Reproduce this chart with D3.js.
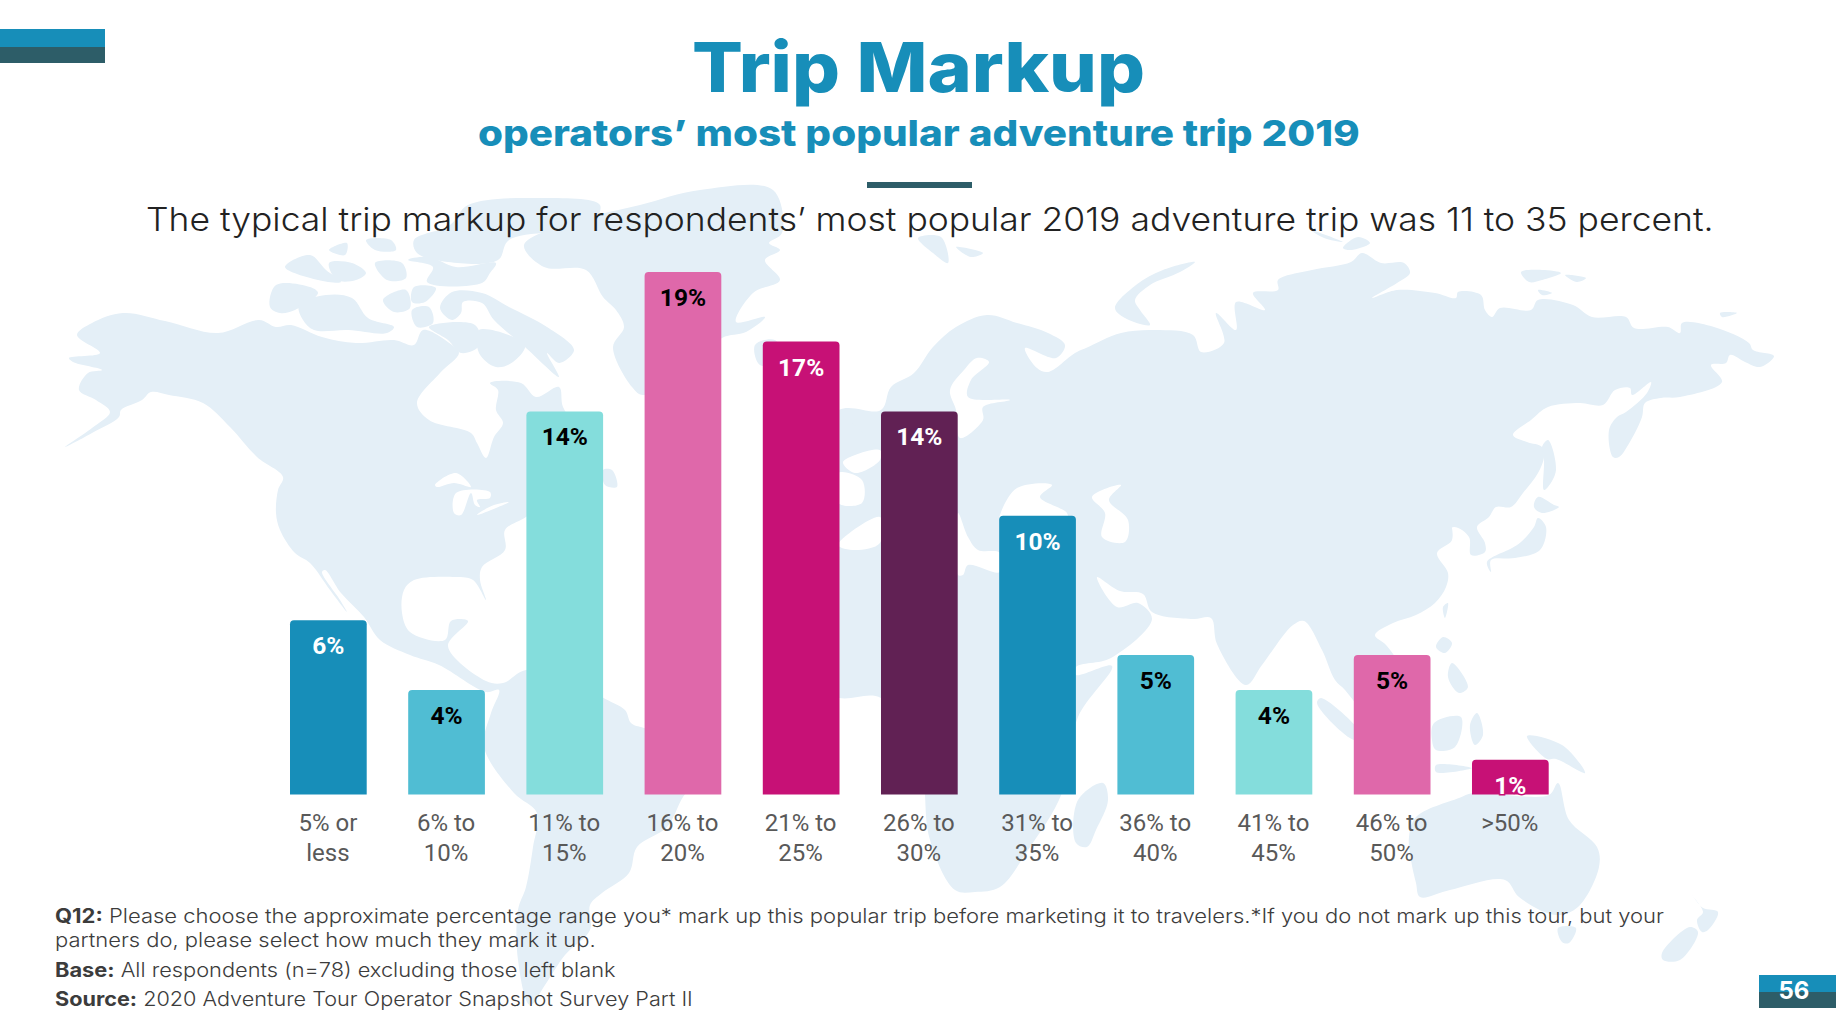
<!DOCTYPE html>
<html>
<head>
<meta charset="utf-8">
<title>Trip Markup</title>
<script src="https://cdn.jsdelivr.net/npm/d3@7"></script>
<style>
  html, body { margin: 0; padding: 0; background: #fff; }
  svg { display: block; }
  text { font-family: Inter, "Open Sans", sans-serif; }
  .bar-label, .cat-label { font-family: Roboto, sans-serif; }
</style>
</head>
<body>
<svg id="chart" width="1836" height="1028"></svg>
<script>
// Data
const categories = ['5% or less', '6% to 10%', '11% to 15%', '16% to 20%', '21% to 25%', '26% to 30%', '31% to 35%', '36% to 40%', '41% to 45%', '46% to 50%', '>50%'];
const categoryLines = [['5% or', 'less'], ['6% to', '10%'], ['11% to', '15%'], ['16% to', '20%'], ['21% to', '25%'], ['26% to', '30%'], ['31% to', '35%'], ['36% to', '40%'], ['41% to', '45%'], ['46% to', '50%'], ['>50%']];
const values = [6.41, 3.85, 14.10, 19.23, 16.67, 14.10, 10.26, 5.13, 3.85, 5.13, 1.28];
const valueLabels = ['6%', '4%', '14%', '19%', '17%', '14%', '10%', '5%', '4%', '5%', '1%'];
const barColors = ['#178eb9', '#50bdd3', '#84dddc', '#df68aa', '#c71176', '#612154', '#178eb9', '#50bdd3', '#84dddc', '#df68aa', '#c71176'];
const labelColors = ['#fff', '#000', '#000', '#000', '#fff', '#fff', '#fff', '#000', '#000', '#000', '#fff'];

const BLUE = '#178eb9', TEAL = '#2d5d68', MAP = '#e4eff7';

// Background map, rough outlines
const land = [
  // Americas
  [[77,335],[92,323],[123,313],[165,321],[218,333],[259,320],[276,327],[291,325],[322,337],[356,343],[394,340],[414,345],[423,330],[452,345],[459,353],[440,373],[417,403],[429,420],[471,433],[477,443],[486,458],[494,437],[503,423],[496,410],[498,390],[490,383],[521,383],[536,397],[559,387],[563,407],[585,440],[595,470],[560,490],[526,517],[505,530],[505,550],[482,567],[480,580],[486,600],[473,580],[456,577],[414,580],[404,590],[402,613],[410,632],[445,640],[451,621],[468,621],[448,646],[486,681],[503,683],[526,670],[580,680],[602,697],[625,710],[631,723],[644,728],[715,745],[700,775],[683,797],[667,827],[637,847],[629,873],[602,893],[590,905],[590,930],[565,955],[545,985],[530,1005],[518,960],[518,910],[526,887],[533,847],[537,813],[514,793],[484,747],[491,713],[499,690],[486,692],[439,665],[410,655],[380,640],[364,617],[341,593],[325,570],[322,572],[340,600],[347,612],[330,590],[310,563],[295,553],[280,530],[276,513],[278,490],[283,477],[257,457],[230,427],[203,403],[169,395],[151,392],[142,400],[121,410],[119,417],[92,433],[65,447],[92,428],[110,412],[96,400],[79,390],[88,373],[102,370],[73,362],[69,358],[100,353]],
  // Canadian arctic
  [[276,285],[310,287],[318,293],[295,310],[280,313],[270,307]],
  [[299,305],[326,295],[352,298],[368,318],[394,327],[387,333],[348,330],[314,330],[303,320]],
  [[285,267],[310,255],[326,270],[341,282],[318,280]],
  [[329,263],[352,263],[366,273],[356,280],[337,280]],
  [[329,250],[347,243],[345,255]],
  [[375,263],[402,263],[406,278],[387,280]],
  [[366,240],[391,240],[396,250],[375,250]],
  [[408,260],[433,267],[427,282],[482,283],[490,273],[496,263],[456,267],[429,257]],
  [[468,205],[540,198],[600,205],[590,225],[509,240],[498,260],[448,262],[417,253],[414,240],[450,225]],
  [[440,308],[452,292],[482,293],[509,307],[547,327],[574,350],[559,363],[547,353],[559,377],[525,347],[494,320],[482,303],[463,302],[461,313],[452,320]],
  [[412,310],[429,307],[433,323],[417,327]],
  [[383,300],[406,290],[410,308],[394,312]],
  [[414,287],[436,288],[425,302],[412,302]],
  [[429,327],[475,325],[480,345],[461,353],[448,340]],
  [[479,330],[525,345],[513,362],[496,367],[479,353]],
  [[603,470],[612,470],[617,487],[605,485]],
  // Greenland, Iceland
  [[524,245],[544,267],[586,270],[603,297],[616,310],[624,327],[613,347],[632,387],[643,395],[690,370],[722,338],[746,332],[765,317],[736,322],[753,293],[780,280],[765,260],[780,250],[769,243],[782,233],[773,190],[700,190],[640,205],[580,220]],
  [[755,345],[775,340],[785,360],[760,365]],
  // Eurasia and Africa
  [[839,410],[881,410],[891,387],[914,373],[933,347],[956,327],[987,315],[1017,323],[1048,333],[1065,345],[1056,358],[1025,348],[1037,368],[1048,372],[1075,353],[1086,348],[1121,333],[1155,330],[1193,335],[1201,352],[1224,343],[1216,313],[1236,330],[1236,302],[1265,310],[1253,293],[1278,290],[1278,280],[1312,270],[1351,262],[1362,253],[1381,263],[1404,263],[1410,273],[1397,283],[1372,298],[1397,290],[1435,293],[1456,298],[1458,292],[1481,295],[1485,310],[1492,317],[1500,308],[1531,310],[1538,300],[1573,305],[1592,317],[1626,317],[1634,328],[1668,327],[1680,333],[1682,323],[1714,327],[1749,343],[1753,350],[1774,356],[1760,367],[1745,362],[1730,355],[1726,363],[1711,365],[1722,382],[1680,397],[1661,398],[1645,403],[1642,417],[1631,440],[1619,457],[1613,457],[1609,430],[1617,417],[1626,412],[1647,393],[1651,382],[1632,395],[1630,388],[1615,390],[1603,405],[1580,403],[1548,407],[1531,420],[1513,435],[1527,442],[1542,447],[1544,457],[1538,473],[1523,493],[1511,507],[1496,507],[1489,517],[1477,527],[1485,543],[1485,552],[1471,555],[1469,537],[1454,527],[1435,540],[1429,532],[1448,520],[1452,540],[1437,553],[1448,573],[1446,587],[1435,603],[1416,615],[1393,623],[1375,635],[1386,645],[1398,665],[1390,690],[1365,680],[1372,700],[1375,735],[1360,710],[1345,690],[1335,680],[1322,650],[1304,621],[1293,625],[1262,665],[1246,685],[1217,644],[1211,618],[1193,619],[1152,612],[1143,594],[1120,591],[1097,577],[1117,607],[1138,603],[1152,619],[1111,658],[1076,667],[1076,675],[1112,666],[1078,717],[1062,793],[1028,850],[1000,887],[975,892],[955,890],[930,840],[925,795],[925,760],[881,698],[839,698],[790,680],[780,600],[800,470]],
  [[841,417],[857,427],[876,450],[864,460],[840,463]],
  // Arctic islands
  [[918,238],[941,237],[948,263],[933,253]],
  [[956,247],[983,253],[971,257]],
  [[1195,262],[1163,270],[1136,285],[1115,308],[1125,318],[1150,325],[1140,310],[1135,300],[1150,285],[1180,272]],
  [[1343,248],[1358,237],[1370,243],[1351,250]],
  [[1311,230],[1343,242],[1324,238]],
  [[1521,272],[1542,270],[1561,273],[1542,280],[1529,282]],
  [[1565,275],[1586,278],[1577,282]],
  [[1538,290],[1552,293],[1542,295]],
  [[1720,313],[1737,313],[1722,317]],
  // Japan, Sakhalin, Taiwan, south-east Asia
  [[1487,562],[1512,548],[1521,542],[1534,527],[1538,518],[1546,527],[1540,550],[1515,558],[1491,560],[1491,572]],
  [[1538,497],[1554,505],[1559,507],[1542,513],[1534,507]],
  [[1542,447],[1548,440],[1556,470],[1548,487],[1544,490],[1544,460]],
  [[1443,607],[1448,603],[1445,618]],
  [[1443,637],[1452,643],[1445,653],[1436,647]],
  [[1452,663],[1468,687],[1459,693],[1448,677]],
  [[1434,723],[1461,717],[1455,747],[1436,750],[1432,740]],
  [[1477,713],[1483,735],[1475,745],[1470,725]],
  [[1321,698],[1363,737],[1354,740],[1317,703]],
  [[1436,765],[1472,768],[1436,772]],
  [[1527,736],[1562,745],[1585,773],[1556,759],[1547,759]],
  // Madagascar, Australia, New Zealand
  [[1078,800],[1103,783],[1108,800],[1096,830],[1087,847],[1076,843]],
  [[1409,837],[1416,817],[1459,798],[1473,793],[1549,795],[1558,783],[1569,820],[1597,847],[1599,867],[1578,907],[1556,915],[1519,897],[1505,880],[1450,890],[1420,897],[1416,883],[1411,860]],
  [[1558,928],[1576,928],[1569,943],[1562,942]],
  [[1692,895],[1703,908],[1718,912],[1708,930],[1702,932],[1697,920],[1703,912]],
  [[1690,927],[1698,932],[1680,960],[1663,960],[1662,953]]
];
// Inland water punched back out of the land
const water = [
  [[435,485],[456,473],[471,487],[454,483],[437,487]],
  [[456,493],[490,492],[490,498],[477,500],[480,507],[475,505],[471,493],[461,515],[454,513]],
  [[477,515],[496,508],[509,502],[494,505],[479,513]],
  [[977,358],[989,362],[971,380],[968,397],[1010,400],[983,407],[983,420],[960,438],[956,410],[950,390],[964,370]],
  [[1092,497],[1121,485],[1109,500],[1128,520],[1125,542],[1102,537],[1105,513]],
  [[1000,515],[1017,488],[1052,485],[1040,497],[1067,513],[1067,520],[1000,520]],
  [[843,462],[880,450],[880,460],[855,473]],
  [[838,473],[862,480],[862,503],[838,503]],
  [[838,545],[880,517],[880,543],[855,550]],
  [[958,513],[968,537],[978,550],[1000,553],[1000,572],[968,565],[963,575],[958,575]]
];

const svg = d3.select('#chart');
const outline = d3.line().curve(d3.curveCatmullRomClosed.alpha(0.5));

svg.append('g').selectAll('path').data(land).enter().append('path')
  .attr('d', d => outline(d)).attr('fill', MAP);
svg.append('g').selectAll('path').data(water).enter().append('path')
  .attr('d', d => outline(d)).attr('fill', '#fff');

// Slide furniture
svg.append('rect').attr('x', 0).attr('y', 29).attr('width', 105).attr('height', 18).attr('fill', BLUE);
svg.append('rect').attr('x', 0).attr('y', 47).attr('width', 105).attr('height', 16).attr('fill', TEAL);
svg.append('rect').attr('x', 867).attr('y', 182).attr('width', 105).attr('height', 6).attr('fill', TEAL);
svg.append('rect').attr('x', 1759).attr('y', 975).attr('width', 77).attr('height', 17).attr('fill', BLUE);
svg.append('rect').attr('x', 1759).attr('y', 992).attr('width', 77).attr('height', 16).attr('fill', TEAL);

// Stretches a line to the width it has on the slide, the slide font is wider than what we have here
function fitText(node, x, y, width) {
  const len = node.node().getComputedTextLength();
  node.attr('transform', `translate(${x},${y}) scale(${width / len},1)`);
}

const title = svg.append('text').attr('font-size', 69).attr('font-weight', 800).attr('fill', BLUE).text('Trip Markup');
fitText(title, 692, 92, 453);
const subtitle = svg.append('text').attr('font-size', 36).attr('font-weight', 800).attr('fill', BLUE).text('operators’ most popular adventure trip 2019');
fitText(subtitle, 478, 146, 882);
const lead = svg.append('text').attr('font-size', 33).attr('font-weight', 300).attr('fill', '#222').text('The typical trip markup for respondents’ most popular 2019 adventure trip was 11 to 35 percent.');
fitText(lead, 146, 231, 1568);

svg.append('text').attr('x', 1794).attr('y', 999).attr('text-anchor', 'middle')
  .attr('font-size', 24).attr('font-weight', 700).attr('fill', '#fff').text('56');

// Footnotes
const notes = [
  { bold: 'Q12:', rest: ' Please choose the approximate percentage range you* mark up this popular trip before marketing it to travelers.*If you do not mark up this tour, but your', y: 923, w: 1610 },
  { bold: '', rest: 'partners do, please select how much they mark it up.', y: 947, w: 541 },
  { bold: 'Base:', rest: ' All respondents (n=78) excluding those left blank', y: 977, w: 561 },
  { bold: 'Source:', rest: ' 2020 Adventure Tour Operator Snapshot Survey Part II', y: 1006, w: 638 }
];
notes.forEach(n => {
  const t = svg.append('text').attr('font-size', 19.5).attr('font-weight', 300).attr('fill', '#3c3c3c').attr('xml:space', 'preserve');
  if (n.bold) t.append('tspan').attr('font-weight', 700).text(n.bold);
  t.append('tspan').text(n.rest);
  fitText(t, 55, n.y, n.w);
});

// Chart
const baseline = 794.5, barTop = 272;
const x = d3.scaleBand().domain(categories).range([290, 1548.7]).paddingInner(0.351).paddingOuter(0);
const y = d3.scaleLinear().domain([0, d3.max(values)]).range([baseline, barTop]);

function barPath(i) {
  const left = x(categories[i]), right = left + x.bandwidth(), top = y(values[i]), r = 4;
  const p = d3.path();
  p.moveTo(left, baseline);
  p.lineTo(left, top + r);
  p.quadraticCurveTo(left, top, left + r, top);
  p.lineTo(right - r, top);
  p.quadraticCurveTo(right, top, right, top + r);
  p.lineTo(right, baseline);
  p.closePath();
  return p.toString();
}

svg.append('g').selectAll('path').data(values).enter().append('path')
  .attr('d', (d, i) => barPath(i))
  .attr('fill', (d, i) => barColors[i]);

svg.append('g').selectAll('text').data(values).enter().append('text')
  .attr('class', 'bar-label')
  .attr('x', (d, i) => x(categories[i]) + x.bandwidth() / 2)
  .attr('y', d => y(d) + 34)
  .attr('text-anchor', 'middle')
  .attr('font-size', 24.5).attr('font-weight', 700)
  .attr('fill', (d, i) => labelColors[i])
  .attr('stroke', (d, i) => barColors[i]).attr('stroke-width', 3)
  .style('paint-order', 'stroke')
  .text((d, i) => valueLabels[i]);

const axis = svg.append('g').attr('transform', `translate(0,${baseline})`)
  .call(d3.axisBottom(x).tickSize(0).tickPadding(0));
axis.select('.domain').remove();
axis.selectAll('.tick text').each(function (d, i) {
  const t = d3.select(this).attr('class', 'cat-label').attr('font-size', 24).attr('fill', '#595959').attr('y', 0).attr('dy', null).text(null);
  categoryLines[i].forEach((line, k) => {
    t.append('tspan').attr('x', -0.5).attr('y', 36.5 + k * 30).text(line);
  });
});
</script>
</body>
</html>
